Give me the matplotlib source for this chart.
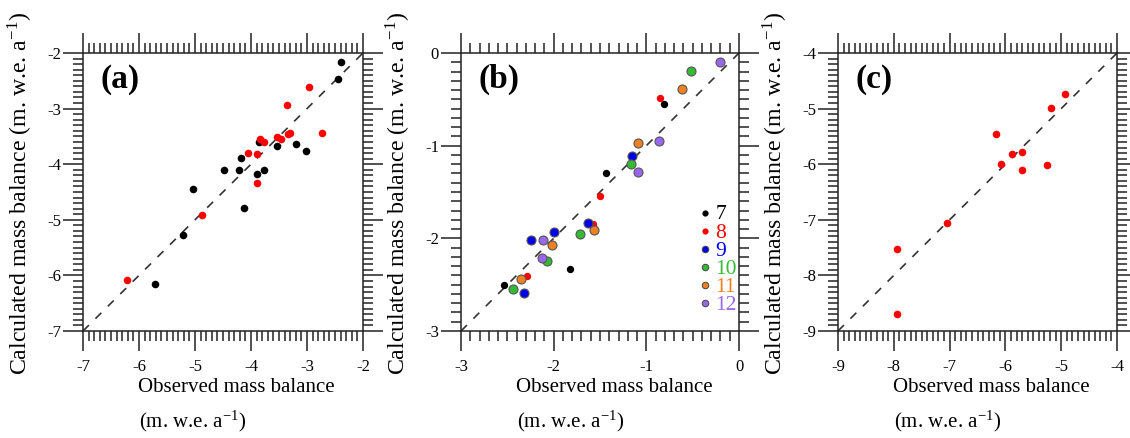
import matplotlib
matplotlib.use("Agg")
import matplotlib.pyplot as plt
from matplotlib.ticker import MultipleLocator

plt.rcParams['font.family'] = ['Liberation Serif', 'DejaVu Serif']
plt.rcParams['mathtext.fontset'] = 'stix'

# ---------------- data ----------------
# Panel (a)
a_black_obs = [-2.39, -2.45, -3.85, -3.53, -3.19, -3.02, -4.17, -4.48, -4.22, -3.89, -3.76, -5.04, -4.12, -5.22, -5.72]
a_black_cal = [-2.17, -2.46, -3.60, -3.68, -3.63, -3.76, -3.88, -4.10, -4.10, -4.18, -4.10, -4.44, -4.78, -5.27, -6.15]
a_red_obs = [-2.97, -3.36, -2.73, -3.34, -3.31, -3.53, -3.47, -3.84, -3.76, -4.06, -3.90, -3.90, -4.88, -6.22]
a_red_cal = [-2.62, -2.93, -3.43, -3.46, -3.43, -3.51, -3.54, -3.54, -3.60, -3.79, -3.82, -4.34, -4.91, -6.08]

# Panel (b), by month
b_months = ['7', '8', '9', '10', '11', '12']
b_colors = ['#000000', '#ff0000', '#0000ee', '#33bb33', '#f08020', '#9966ee']
b_obs = {
    '7': [-0.81, -1.43, -1.82, -2.54],
    '8': [-0.85, -1.50, -1.58, -2.29],
    '9': [-1.15, -1.63, -2.00, -2.24, -2.32],
    '10': [-0.52, -1.17, -1.72, -2.07, -2.44],
    '11': [-0.61, -1.09, -1.56, -2.02, -2.35],
    '12': [-0.21, -0.86, -1.09, -2.12, -2.13],
}
b_cal = {
    '7': [-0.55, -1.29, -2.33, -2.50],
    '8': [-0.49, -1.54, -1.85, -2.41],
    '9': [-1.11, -1.83, -1.93, -2.02, -2.59],
    '10': [-0.19, -1.20, -1.95, -2.24, -2.55],
    '11': [-0.39, -0.97, -1.91, -2.07, -2.44],
    '12': [-0.10, -0.95, -1.28, -2.02, -2.21],
}

# Panel (c)
c_obs = [-4.93, -5.19, -6.16, -5.71, -5.89, -6.08, -5.71, -5.26, -7.04, -7.94, -7.94]
c_cal = [-4.73, -4.99, -5.46, -5.78, -5.82, -6.00, -6.11, -6.02, -7.06, -7.52, -8.70]

limits = {'a': (-7, -2), 'b': (-3, 0), 'c': (-9, -4)}
panel_labels = ['(a)', '(b)', '(c)']
xlabel_1 = 'Observed mass balance'
xlabel_2 = r'(m. w.e. a$^{\mathregular{-1}}$)'
ylabel = r'Calculated mass balance (m. w.e. a$^{\mathregular{-1}}$)'

# ---------------- figure ----------------
W, H = 1130, 438
fig = plt.figure(figsize=(W / 100, H / 100), dpi=100)

lefts_px = [83, 461, 838]
widths_px = [280, 278, 279]
top_px, bot_px = 53, 331
axes = []
for lp, wp in zip(lefts_px, widths_px):
    ax = fig.add_axes([lp / W, 1 - bot_px / H, wp / W, (bot_px - top_px) / H])
    axes.append(ax)


def style(ax, lo, hi):
    ax.set_xlim(lo, hi)
    ax.set_ylim(lo, hi)
    ax.xaxis.set_major_locator(MultipleLocator(1))
    ax.yaxis.set_major_locator(MultipleLocator(1))
    ax.xaxis.set_minor_locator(MultipleLocator(0.1))
    ax.yaxis.set_minor_locator(MultipleLocator(0.1))
    ax.tick_params(which='both', direction='out', top=True, right=True,
                   labeltop=False, labelright=False, color='#222222')
    ax.tick_params(which='major', length=14.4, width=1.1)
    ax.tick_params(which='minor', length=7.5, width=1.1)
    ax.tick_params(axis='x', which='major', pad=6, labelsize=12)
    ax.tick_params(axis='y', which='major', pad=1.5, labelsize=12)
    for s in ax.spines.values():
        s.set_linewidth(1.1)
        s.set_color('#222222')
    ax.plot([lo, hi], [lo, hi], color='#333333', lw=1.2, dashes=(5, 5.5), zorder=1)
    ticks = list(range(lo, hi + 1))
    ax.set_xticks(ticks)
    ax.set_yticks(ticks)
    ax.set_xticklabels([f'{v:d}' for v in ticks])
    ax.set_yticklabels([f'{v:d}' for v in ticks])


# Panel a
ax = axes[0]
style(ax, *limits['a'])
ax.scatter(a_black_obs, a_black_cal, s=30, c='black', linewidths=0, zorder=3)
ax.scatter(a_red_obs, a_red_cal, s=30, c='red', linewidths=0, zorder=4)

# Panel b
ax = axes[1]
style(ax, *limits['b'])
order = ['8', '7', '9', '10', '11', '12']
for m in order:
    col = b_colors[b_months.index(m)]
    if m in ('7', '8'):
        ax.scatter(b_obs[m], b_cal[m], s=28, c=col, linewidths=0, zorder=3)
    else:
        ax.scatter(b_obs[m], b_cal[m], s=42, c=col, edgecolors='#555555', linewidths=0.8, zorder=4)
# month legend
for i, (m, col) in enumerate(zip(b_months, b_colors)):
    yy = 0.4254 - i * 0.0652
    if m in ('7', '8'):
        ax.scatter([0.878], [yy], s=20, c=col, linewidths=0, transform=ax.transAxes, zorder=5, clip_on=False)
    else:
        ax.scatter([0.878], [yy], s=22, c=col, edgecolors='#444444', linewidths=0.7,
                   transform=ax.transAxes, zorder=5, clip_on=False)
    ax.text(0.915, yy - 0.008, m, color=col, fontsize=15.5, ha='left', va='center',
            transform=ax.transAxes)

# Panel c
ax = axes[2]
style(ax, *limits['c'])
ax.scatter(c_obs, c_cal, s=30, c='red', linewidths=0, zorder=3)

# panel letters, axis labels
for ax, lab, lp, wp in zip(axes, panel_labels, lefts_px, widths_px):
    ax.text(0.063, 0.905, lab, transform=ax.transAxes, fontsize=24, fontweight='bold',
            ha='left', va='center')
    fig.text((lp + 55) / W, 1 - 387 / H, xlabel_1, fontsize=15,
             ha='left', va='center')
    fig.text((lp + 56) / W, 1 - 421 / H, xlabel_2, fontsize=15,
             ha='left', va='center')
    fig.text((lp - 63) / W, 1 - 193 / H, ylabel,
             fontsize=17.2, rotation=90, ha='center', va='center')

fig.savefig('out.png', dpi=100)
